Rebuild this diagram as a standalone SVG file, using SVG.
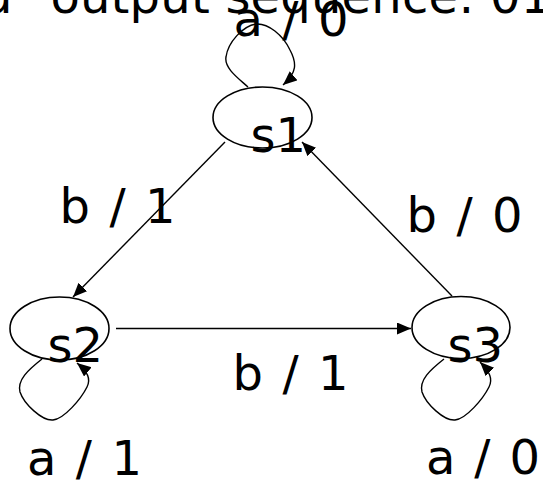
<svg xmlns="http://www.w3.org/2000/svg" width="543" height="482" viewBox="0 0 543 482">
<style>
text{font-family:"DejaVu Sans",Verdana,"Liberation Sans",sans-serif;font-size:48px;fill:#000}
.st{fill:none;stroke:#000;stroke-width:1.6}
.ln{fill:none;stroke:#000;stroke-width:1.4}
</style>
<defs>
<marker id="ah" markerUnits="userSpaceOnUse" markerWidth="16" markerHeight="14" refX="14" refY="6" orient="auto">
<path d="M0,0 L14,6 L0,12 Z" fill="#000"/>
</marker>
</defs>
<rect width="543" height="482" fill="#fff"/>
<text id="title" y="13"><tspan x="-18">d</tspan><tspan x="50.4" textLength="501" lengthAdjust="spacing">output sequence: 01</tspan></text>
<g id="connectors">
<path class="ln" d="M225,142 L73,297" marker-end="url(#ah)"/>
<path class="ln" d="M452,296 L302,142" marker-end="url(#ah)"/>
<path class="ln" d="M116,328.5 L411,328.5" marker-end="url(#ah)"/>
<path class="ln" d="M248,87 C238,78 224,68 226,57 C228,42 243,26 256,24 C268,23 283,35 290,50 C297,63 297,73 283,85" marker-end="url(#ah)"/>
<path class="ln" d="M42,359 C28,370 17,380 20,392 C24,404 42,421 53,420 C64,419 81,399 87,387 C91,379 88,372 77,363" marker-end="url(#ah)"/>
<path class="ln" d="M444,359 C430,370 419,380 422,392 C426,404 444,421 455,420 C466,419 483,399 489,387 C493,379 490,372 480,362" marker-end="url(#ah)"/>
<text x="233.5" y="36" textLength="115" lengthAdjust="spacing">a / 0</text>
<text x="59.5" y="223" textLength="116" lengthAdjust="spacing">b / 1</text>
<text x="406.5" y="232" textLength="116" lengthAdjust="spacing">b / 0</text>
<text x="232.5" y="390" textLength="116" lengthAdjust="spacing">b / 1</text>
<text x="27" y="475" textLength="115" lengthAdjust="spacing">a / 1</text>
<text x="426" y="474" textLength="114" lengthAdjust="spacing">a / 0</text>
</g>
<g id="s1">
<ellipse class="st" cx="262.5" cy="117.5" rx="49.5" ry="30.5"/>
<text x="250.5" y="152">s1</text>
</g>
<g id="s2">
<ellipse class="st" cx="59.5" cy="328.5" rx="49.5" ry="31.5"/>
<text x="47.5" y="362">s2</text>
</g>
<g id="s3">
<ellipse class="st" cx="461" cy="327.5" rx="49" ry="31"/>
<text x="447.5" y="362">s3</text>
</g>
</svg>
